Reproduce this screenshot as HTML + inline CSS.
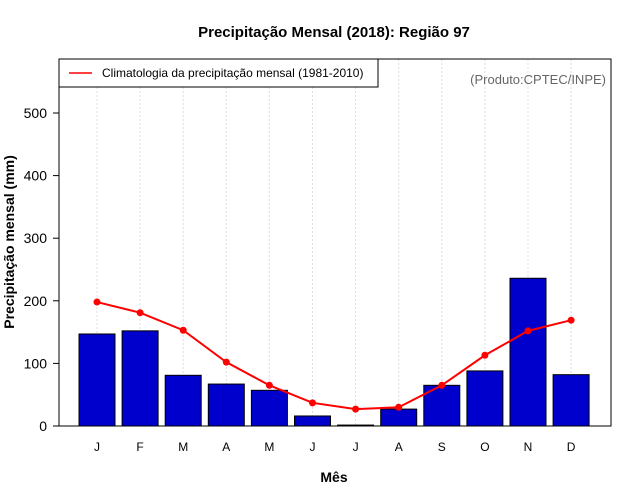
<!DOCTYPE html>
<html><head><meta charset="utf-8"><style>body{margin:0;background:#fff}svg{display:block;font-family:"Liberation Sans",Arial,sans-serif}</style></head>
<body>
<svg id="c" width="640" height="500"></svg>
<script>
const months=["J","F","M","A","M","J","J","A","S","O","N","D"];
const precip=[147,152,81,67,57,16,1.5,27,65,88,236,82];
const clim=[198,181,153,102,65,37,27,30,65,113,152,169];
const yTicks=[0,100,200,300,400,500];
const NS="http://www.w3.org/2000/svg";
const svg=document.getElementById('c');
const L=59,R=611,T=59,B=426;
const y=v=>426-v*0.626;
const x=i=>97+i*43.1;
function mk(t,a,p){const e=document.createElementNS(NS,t);for(const k in a)e.setAttribute(k,a[k]);(p||svg).appendChild(e);return e;}
// grid
months.forEach((m,i)=>{const g=mk('line',{x1:x(i),x2:x(i),y1:T,y2:B,stroke:'#ddd','stroke-dasharray':'2,2'});

});
// bars
precip.forEach((v,i)=>{const r=mk('rect',{x:x(i)-18,y:y(v),width:36,height:B-y(v),fill:'#0000cd',stroke:'#000','stroke-width':1});

});
// line
const pl=mk('polyline',{points:clim.map((v,i)=>x(i)+','+y(v)).join(' '),fill:'none',stroke:'#f00','stroke-width':2});


clim.forEach((v,i)=>{const c=mk('circle',{cx:x(i),cy:y(v),r:3.5,fill:'#f00'});

});
// frame
const fr=mk('rect',{x:L,y:T,width:R-L,height:B-T,fill:'none',stroke:'#000'});


// y ticks
yTicks.forEach(v=>{mk('line',{x1:L-6,x2:L,y1:y(v),y2:y(v),stroke:'#000'});
const t=mk('text',{x:L-12,y:y(v)+5,'text-anchor':'end','font-size':14});t.textContent=v;

});
months.forEach((m,i)=>{const t=mk('text',{x:x(i),y:451,'text-anchor':'middle','font-size':12});t.textContent=m;

});
</script>
<script>
(function(){const svg=document.getElementById('c');const NS="http://www.w3.org/2000/svg";
function mk(t,a){const e=document.createElementNS(NS,t);for(const k in a)e.setAttribute(k,a[k]);svg.appendChild(e);return e;}
let t=mk('text',{x:334,y:37,'text-anchor':'middle','font-size':15,'font-weight':'bold'});t.textContent='Precipitação Mensal (2018): Região 97';

t=mk('text',{x:334,y:482,'text-anchor':'middle','font-size':14,'font-weight':'bold'});t.textContent='Mês';

t=mk('text',{x:0,y:0,'text-anchor':'middle','font-size':14,'font-weight':'bold',transform:'translate(14,242) rotate(-90)'});t.textContent='Precipitação mensal (mm)';

t=mk('text',{x:606,y:84,'text-anchor':'end','font-size':13,fill:'#666'});t.textContent='(Produto:CPTEC/INPE)';

const lg=mk('rect',{x:59,y:59,width:319,height:28,fill:'#fff',stroke:'#000'});

mk('line',{x1:69,x2:92,y1:73,y2:73,stroke:'#f00','stroke-width':1.5});
t=mk('text',{x:102,y:77,'font-size':12});t.textContent='Climatologia da precipitação mensal (1981-2010)';

})();
</script>
</body></html>
